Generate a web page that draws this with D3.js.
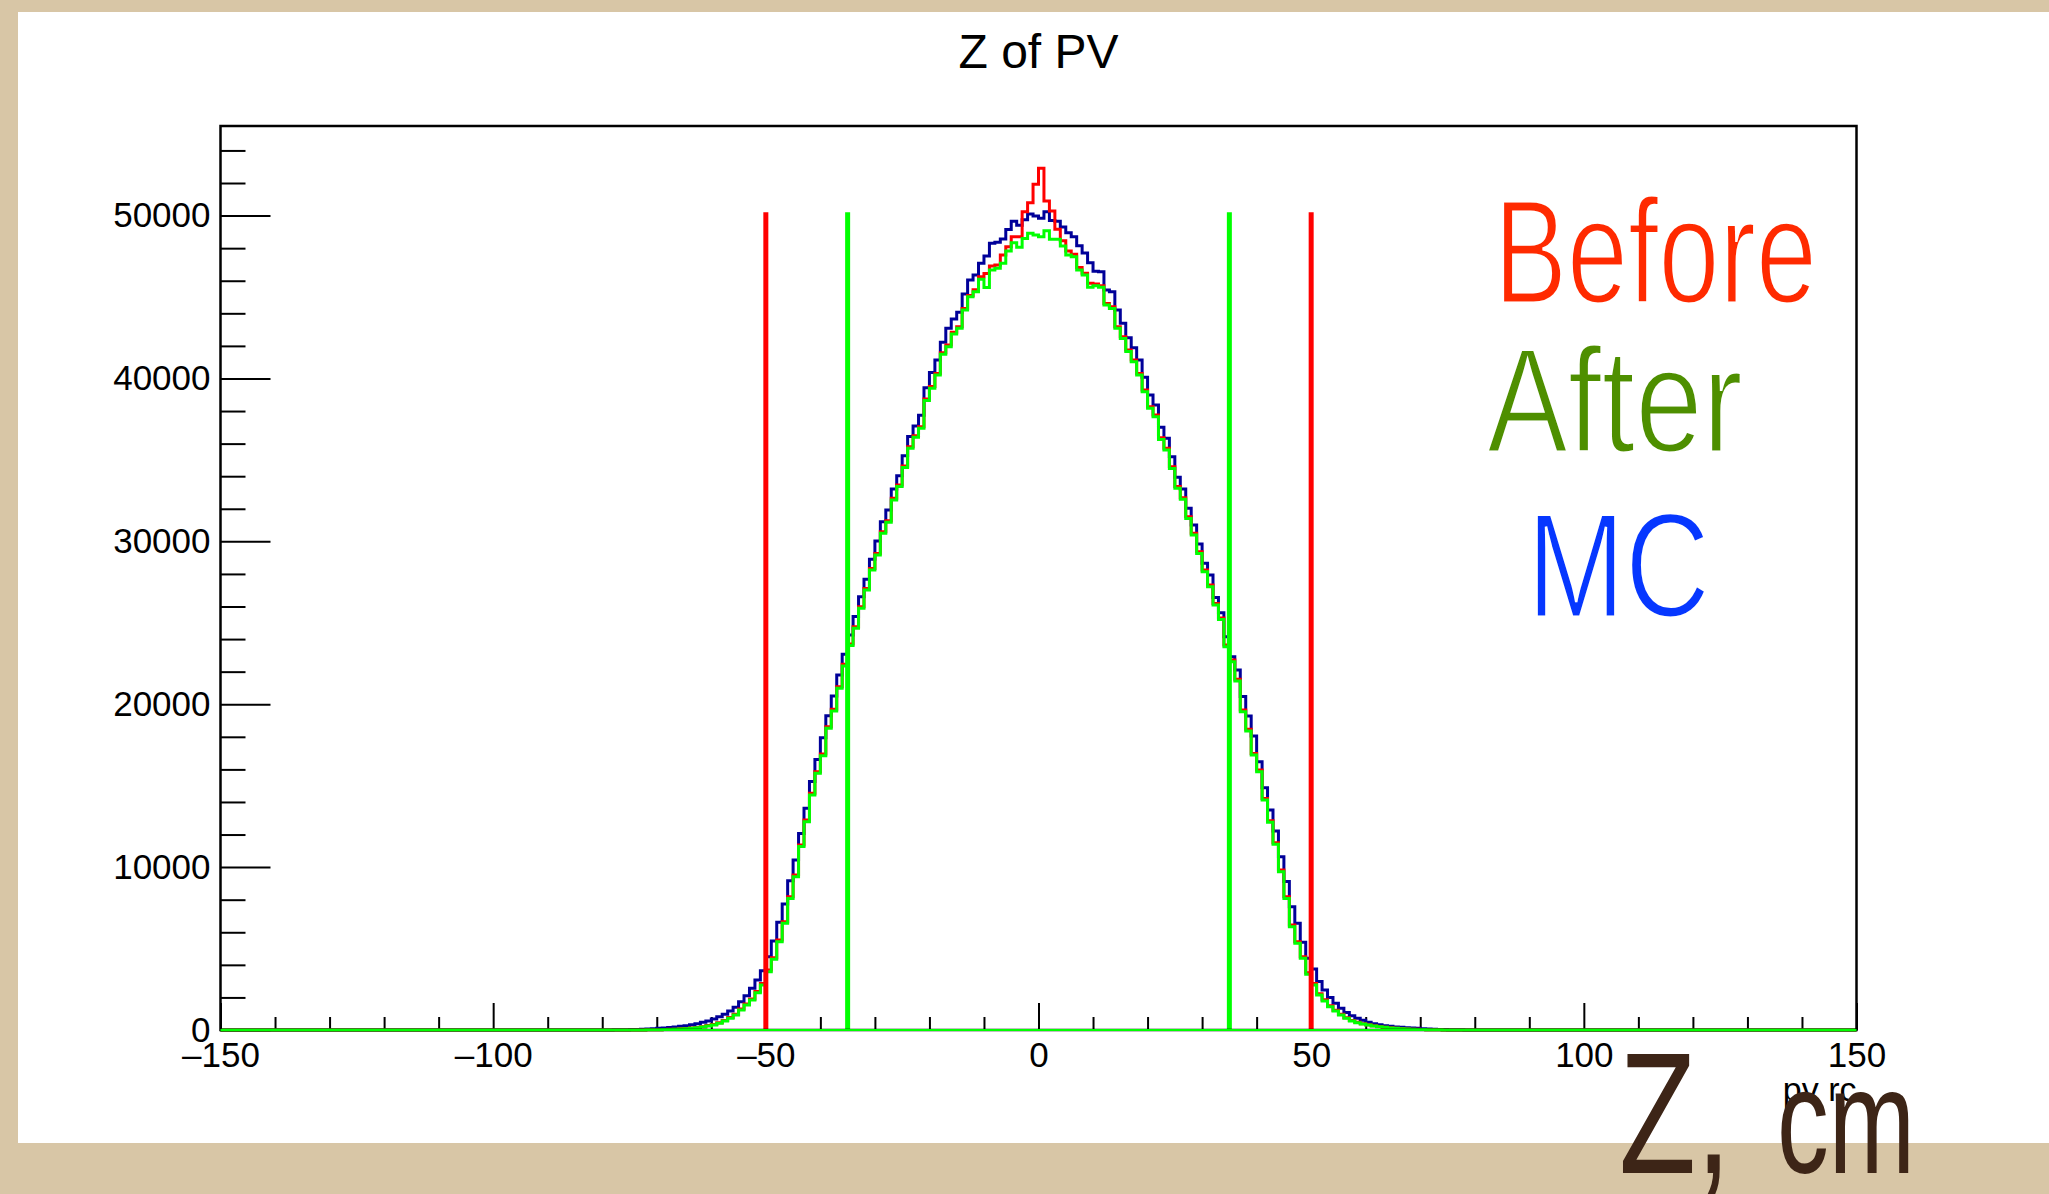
<!DOCTYPE html>
<html>
<head>
<meta charset="utf-8">
<script src="https://cdn.jsdelivr.net/npm/d3@7"></script>
<style>
  html, body { margin: 0; padding: 0; background: #d8c6a6; }
  svg { display: block; }
  text { font-family: "Liberation Sans", Arial, Helvetica, sans-serif; }
</style>
</head>
<body>
<svg id="chart" width="2049" height="1194"></svg>
<script>
// histogram: 300 bins of 1 cm from -150 to 150, only bins -80..79 are filled
const binStart = -80;

const mcCounts = [
  3, 5, 8, 12, 18, 26, 36, 48, 62, 80,
  100, 120, 150, 184, 225, 266, 327, 389, 471, 553,
  675, 820, 960, 1170, 1390, 1740, 2110, 2560, 3070, 3640,
  4500, 5460, 6610, 7740, 9170, 10440, 12070, 13610, 15250, 16600,
  17950, 19300, 20500, 21800, 23070, 24250, 25380, 26600, 27670, 28900,
  30020, 31210, 31930, 33220, 34030, 35260, 36430, 37080, 37740, 39430,
  40360, 41140, 42220, 43080, 43650, 44060, 45190, 46050, 46350, 47070,
  47520, 48300, 48370, 48570, 49140, 49650, 49400, 49750, 50100, 49975,
  49830, 50240, 49700, 49650, 49300, 48950, 48700, 48150, 47700, 47100,
  46580, 46550, 45430, 45330, 44200, 43390, 42500, 41890, 41130, 40070,
  38990, 38370, 37000, 36330, 35200, 33930, 33220, 32030, 31000, 29840,
  28650, 27940, 26560, 25620, 24150, 22920, 22100, 20470, 19280, 18050,
  16470, 14880, 13510, 12220, 10640, 9110, 7570, 6550, 5380, 4400,
  3750, 2970, 2460, 1990, 1640, 1330, 1080, 880, 716, 593,
  470, 389, 327, 266, 225, 184, 164, 143, 123, 102,
  80, 60, 45, 35, 25, 18, 12, 8, 5, 3
];

const beforeCounts = [
  0, 1, 1, 2, 3, 4, 5, 7, 10, 15,
  21, 29, 39, 52, 70, 92, 125, 160, 205, 270,
  335, 440, 590, 760, 970, 1290, 1600, 1910, 2370, 2850,
  3680, 4440, 5520, 6650, 8180, 9510, 11360, 12890, 14530, 15860,
  16940, 18620, 19690, 21080, 22450, 23700, 24760, 25990, 27110, 28340,
  29260, 30590, 31270, 32640, 33460, 34630, 35810, 36490, 37040, 38740,
  39500, 40310, 41580, 42050, 42830, 43180, 44300, 45100, 45450, 46250,
  46450, 46900, 46970, 47580, 48090, 48700, 48700, 50240, 50790, 51920,
  52900, 50900, 50280, 49160, 48450, 47820, 47630, 46810, 46460, 45850,
  45800, 45700, 44610, 44400, 43180, 42560, 41750, 41130, 40310, 39290,
  38270, 37750, 36360, 35710, 34580, 33360, 32680, 31510, 30490, 29360,
  28240, 27320, 26190, 25300, 23630, 22710, 21530, 19640, 18460, 16980,
  15960, 14220, 12850, 11500, 9820, 8180, 6440, 5420, 4500, 3510,
  2850, 2230, 1850, 1490, 1220, 960, 750, 585, 475, 390,
  325, 262, 218, 175, 140, 108, 87, 66, 50, 39,
  28, 19, 13, 9, 6, 4, 2, 1, 1, 0
];

const afterCounts = [
  0, 0, 1, 1, 2, 2, 3, 5, 8, 12,
  17, 24, 33, 45, 60, 80, 110, 143, 184, 246,
  307, 409, 553, 716, 920, 1230, 1535, 1840, 2290, 2760,
  3580, 4340, 5420, 6550, 8080, 9410, 11260, 12790, 14430, 15760,
  16840, 18520, 19590, 20980, 22350, 23600, 24660, 25890, 27010, 28240,
  29160, 30490, 31170, 32540, 33360, 34530, 35710, 36390, 36940, 38640,
  39400, 40210, 41480, 41950, 42730, 43080, 44200, 45020, 45330, 46090,
  45580, 46660, 46760, 47070, 47830, 48330, 48050, 48600, 48910, 48810,
  48700, 49075, 48540, 48540, 48130, 47580, 47470, 46660, 46350, 45600,
  45700, 45600, 44510, 44300, 43080, 42460, 41650, 41030, 40210, 39190,
  38170, 37650, 36260, 35610, 34480, 33260, 32580, 31410, 30390, 29260,
  28140, 27220, 26090, 25200, 23530, 22610, 21430, 19540, 18360, 16880,
  15860, 14120, 12750, 11400, 9720, 8080, 6340, 5320, 4400, 3420,
  2760, 2150, 1780, 1430, 1170, 920, 716, 553, 450, 368,
  307, 246, 205, 164, 130, 100, 80, 60, 45, 35,
  25, 17, 12, 8, 5, 3, 2, 1, 1, 0
];

// vertical cut lines
const cutLines = [
  { x: -50, top: 50200, color: "#ff0000" },
  { x: 50, top: 50200, color: "#ff0000" },
  { x: -35, top: 50200, color: "#00ff00" },
  { x: 35, top: 50200, color: "#00ff00" }
];

const xMajorTicks = [-150, -100, -50, 0, 50, 100, 150];
const yMajorTicks = [0, 10000, 20000, 30000, 40000, 50000];

const legendLabels = [
  { text: "Before", color: "#ff2a00", x: 1494, y: 303, len: 323 },
  { text: "After", color: "#4e8f00", x: 1487, y: 452, len: 256 },
  { text: "MC", color: "#0637ff", x: 1527, y: 617, len: 183 }
];

// handwritten axis note, split so "cm" can be smaller than "Z,"
const noteParts = [
  { text: "Z,", x: 1619, size: 172, len: 112 },
  { text: "cm", x: 1777, size: 150, len: 138 }
];

const svg = d3.select("#chart");

const padL = 220.5, padR = 1856.5, padT = 126, padB = 1030;

const x = d3.scaleLinear().domain([-150, 150]).range([padL, padR]);
const y = d3.scaleLinear().domain([0, 55500]).range([padB, padT]);

// paper background + white sheet
svg.append("rect").attr("width", 2049).attr("height", 1194).attr("fill", "#d8c6a6");
svg.append("rect").attr("x", 18).attr("y", 12).attr("width", 2031).attr("height", 1131).attr("fill", "#ffffff");

// title
svg.append("text")
  .attr("x", (padL + padR) / 2)
  .attr("y", 68)
  .attr("text-anchor", "middle")
  .style("font-size", "48px")
  .text("Z of PV");

// x axis (ticks inside)
const fmt = d => d < 0 ? "\u2013" + Math.abs(d) : String(d);

svg.append("g")
  .attr("transform", `translate(0,${padB})`)
  .call(d3.axisBottom(x).tickValues(d3.range(-150, 151, 10).filter(v => v % 50 !== 0))
    .tickSize(-13).tickFormat(""))
  .call(g => g.select(".domain").remove())
  .call(g => g.selectAll("line").attr("stroke-width", 2));

svg.append("g")
  .attr("transform", `translate(0,${padB})`)
  .call(d3.axisBottom(x).tickValues(xMajorTicks).tickSize(-27).tickPadding(12).tickFormat(fmt))
  .call(g => g.select(".domain").remove())
  .call(g => g.selectAll("line").attr("stroke-width", 2))
  .call(g => g.selectAll("text").style("font-size", "35px").attr("font-family", null));

// y axis (ticks inside)
svg.append("g")
  .attr("transform", `translate(${padL},0)`)
  .call(d3.axisLeft(y).tickValues(d3.range(0, 55001, 2000).filter(v => v % 10000 !== 0))
    .tickSize(-25).tickFormat(""))
  .call(g => g.select(".domain").remove())
  .call(g => g.selectAll("line").attr("stroke-width", 2));

svg.append("g")
  .attr("transform", `translate(${padL},0)`)
  .call(d3.axisLeft(y).tickValues(yMajorTicks).tickSize(-50).tickPadding(10).tickFormat(d3.format("d")))
  .call(g => g.select(".domain").remove())
  .call(g => g.selectAll("line").attr("stroke-width", 2))
  .call(g => g.selectAll("text").style("font-size", "35px").attr("font-family", null));

// axis title
svg.append("text")
  .attr("x", padR)
  .attr("y", 1101)
  .attr("text-anchor", "end")
  .style("font-size", "34px")
  .text("pv rc");

// histograms
const edges = d3.range(-150, 151);
const fullBins = arr => edges.map(e => {
  const i = Math.min(e, 149) - binStart;
  return i >= 0 && i < arr.length ? arr[i] : 0;
});

const step = d3.line()
  .x(d => x(d[0]))
  .y(d => y(d[1]))
  .curve(d3.curveStepAfter);

const series = [
  { counts: mcCounts, color: "#000099" },
  { counts: beforeCounts, color: "#ff0000" },
  { counts: afterCounts, color: "#00ff00" }
];

series.forEach(s => {
  const vals = fullBins(s.counts);
  const pts = edges.map((e, i) => [e, vals[i]]);
  svg.append("path")
    .attr("d", step(pts))
    .attr("fill", "none")
    .attr("stroke", s.color)
    .attr("stroke-width", 3)
    .attr("stroke-linejoin", "miter");
});

// cut lines
svg.selectAll(".cut")
  .data(cutLines)
  .join("line")
  .attr("class", "cut")
  .attr("x1", d => x(d.x)).attr("x2", d => x(d.x))
  .attr("y1", y(0)).attr("y2", d => y(d.top))
  .attr("stroke", d => d.color)
  .attr("stroke-width", 5);

// frame
svg.append("rect")
  .attr("x", padL).attr("y", padT)
  .attr("width", padR - padL).attr("height", padB - padT)
  .attr("fill", "none")
  .attr("stroke", "#000")
  .attr("stroke-width", 2.5);

// green zero line sits over the bottom axis
svg.append("line")
  .attr("x1", x(-150)).attr("x2", x(150))
  .attr("y1", y(0)).attr("y2", y(0))
  .attr("stroke", "#00ff00").attr("stroke-width", 2);

// handwritten annotations (white outline thins the strokes a bit)
svg.selectAll(".legend")
  .data(legendLabels)
  .join("text")
  .attr("class", "legend")
  .attr("x", d => d.x).attr("y", d => d.y)
  .attr("textLength", d => d.len)
  .attr("lengthAdjust", "spacingAndGlyphs")
  .style("font-family", "'Liberation Sans Narrow', 'Liberation Sans', sans-serif")
  .style("font-size", "148px")
  .attr("fill", d => d.color)
  .attr("stroke", "#ffffff")
  .attr("stroke-width", 3)
  .text(d => d.text);

svg.selectAll(".note")
  .data(noteParts)
  .join("text")
  .attr("class", "note")
  .attr("x", d => d.x).attr("y", 1173)
  .attr("textLength", d => d.len)
  .attr("lengthAdjust", "spacingAndGlyphs")
  .style("font-family", "'Liberation Sans Narrow', 'Liberation Sans', sans-serif")
  .style("font-size", d => d.size + "px")
  .attr("fill", "#3d2517")
  .text(d => d.text);
</script>
</body>
</html>
